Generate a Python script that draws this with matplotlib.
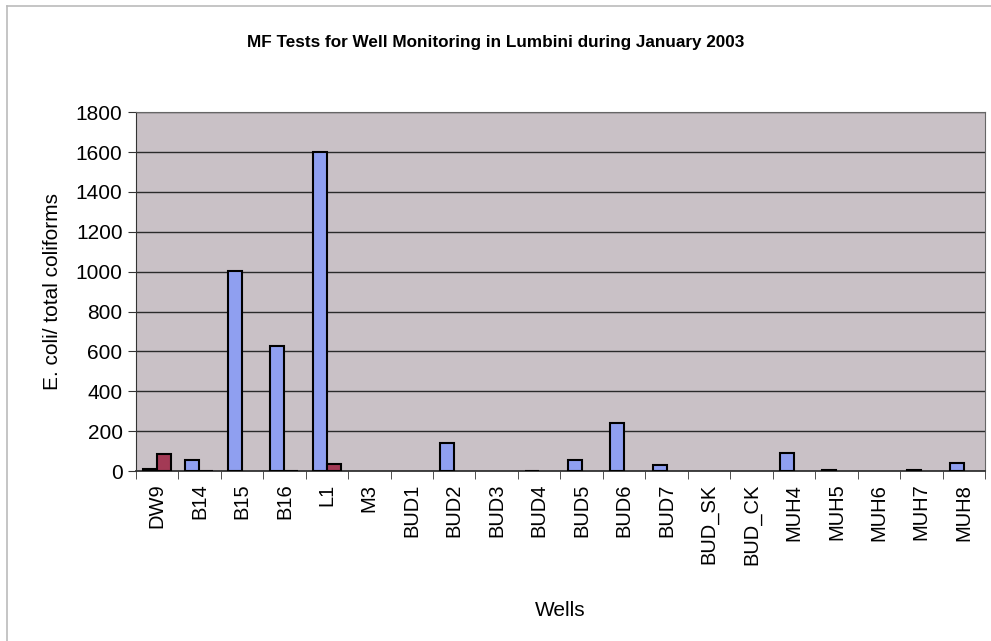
import matplotlib
matplotlib.use("Agg")
import matplotlib.pyplot as plt
import numpy as np
from matplotlib.lines import Line2D

plt.rcParams['font.family'] = ['Liberation Sans', 'DejaVu Sans']

wells = ["DW9", "B14", "B15", "B16", "L1", "M3", "BUD1", "BUD2", "BUD3", "BUD4",
         "BUD5", "BUD6", "BUD7", "BUD_SK", "BUD_CK", "MUH4", "MUH5", "MUH6", "MUH7", "MUH8"]
total_coliforms = [10, 55, 1005, 625, 1600, 0, 0, 140, 0, 3,
                   55, 243, 30, 0, 0, 90, 4, 0, 4, 40]
e_coli = [85, 3, 0, 3, 35, 0, 0, 0, 0, 0,
          0, 0, 0, 0, 0, 0, 0, 0, 0, 0]
yticks = [0, 200, 400, 600, 800, 1000, 1200, 1400, 1600, 1800]

fig = plt.figure(figsize=(9.91, 6.41), dpi=100)
ax = fig.add_axes([0.137, 0.265, 0.857, 0.560])
ax.set_facecolor('#c9c1c6')

x = np.arange(len(wells))
w = 0.33
lw_tc = [1.5 if v > 0 else 0 for v in total_coliforms]
lw_ec = [1.5 if v > 0 else 0 for v in e_coli]
ax.bar(x - w / 2, total_coliforms, width=w, color='#8f9ff0', edgecolor='black', linewidth=lw_tc, zorder=3)
ax.bar(x + w / 2, e_coli, width=w, color='#a33a55', edgecolor='black', linewidth=lw_ec, zorder=3)

ax.set_xlim(-0.5, len(wells) - 0.5)
ax.set_ylim(0, 1800)
ax.set_yticks(yticks)
ax.set_yticklabels([str(v) for v in yticks], fontsize=15)
ax.yaxis.grid(True, color='#2a2a2a', linewidth=1.0, zorder=1)
ax.set_axisbelow(True)

ax.set_xticks(x)
ax.set_xticklabels(wells, rotation=90, fontsize=14.5)
ax.tick_params(axis='x', length=0, pad=9)
ax.set_xticks(np.arange(len(wells) + 1) - 0.5, minor=True)
ax.tick_params(axis='x', which='minor', length=6, direction='out', color='#333333')
ax.tick_params(axis='y', length=6, direction='out', color='#333333')

for s in ['top', 'right']:
    ax.spines[s].set_color('#666666')
ax.spines['left'].set_color('#333333')
ax.spines['bottom'].set_color('#333333')
ax.spines['bottom'].set_linewidth(1.3)

ax.set_ylabel('E. coli/ total coliforms', fontsize=15, labelpad=10)
ax.set_xlabel('Wells', fontsize=15, labelpad=26)

fig.text(0.5, 0.934, 'MF Tests for Well Monitoring in Lumbini during January 2003',
         ha='center', va='center', fontsize=12.3, fontweight='bold')

fig.add_artist(Line2D([0.007, 1.0], [0.99, 0.99], color='#bbbbbb', linewidth=1.2))
fig.add_artist(Line2D([0.007, 0.007], [0.99, 0.0], color='#bbbbbb', linewidth=1.2))

fig.savefig('out.png', dpi=100, facecolor='white')
